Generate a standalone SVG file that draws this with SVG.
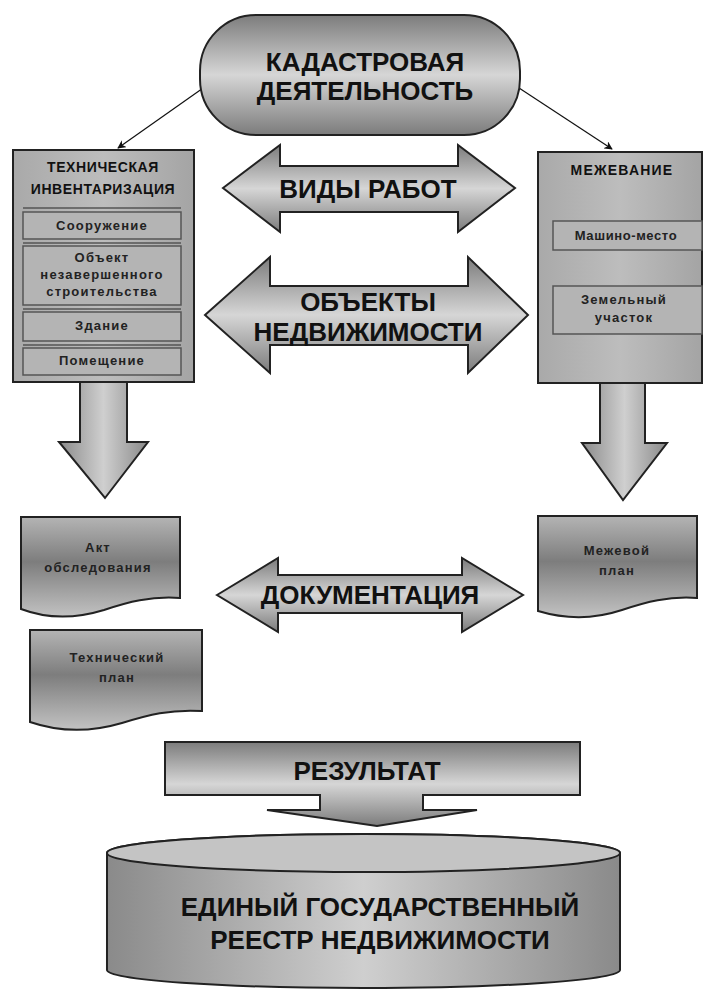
<svg xmlns="http://www.w3.org/2000/svg" width="704" height="990" viewBox="0 0 704 990">
<defs>
<linearGradient id="gv" x1="0" y1="0" x2="0" y2="1">
<stop offset="0" stop-color="#7c7c7c"/><stop offset="0.5" stop-color="#d6d6d6"/><stop offset="1" stop-color="#7c7c7c"/>
</linearGradient>
<linearGradient id="gh" x1="0" y1="0" x2="1" y2="0">
<stop offset="0" stop-color="#8a8a8a"/><stop offset="0.5" stop-color="#cfcfcf"/><stop offset="1" stop-color="#8a8a8a"/>
</linearGradient>
<linearGradient id="gbox" x1="0" y1="0" x2="1" y2="0">
<stop offset="0" stop-color="#a9a9a9"/><stop offset="0.5" stop-color="#bdbdbd"/><stop offset="1" stop-color="#a4a4a4"/>
</linearGradient>
<linearGradient id="gdoc" x1="0" y1="0" x2="0" y2="1">
<stop offset="0" stop-color="#b4b4b4"/><stop offset="0.45" stop-color="#7d7d7d"/><stop offset="1" stop-color="#c2c2c2"/>
</linearGradient>
<marker id="ah" viewBox="0 0 10 10" refX="9" refY="5" markerWidth="7" markerHeight="7" orient="auto">
<path d="M0,0 L10,5 L0,10 L3,5 Z" fill="#111"/>
</marker>
</defs>
<style>
.sh{stroke:#222;stroke-width:2}
.t{font-family:"Liberation Sans",Arial,sans-serif;fill:#111;text-anchor:middle;dominant-baseline:central}
.big{font-size:26px;font-weight:bold}
.mid{font-size:14px;font-weight:bold;letter-spacing:0.6px}
.sm{font-size:13px;font-weight:bold;letter-spacing:1.2px;fill:#222}
.inner{fill:#b4b4b4;stroke:#555;stroke-width:1.5}
.dl{stroke:#555;stroke-width:1.5}
</style>

<g id="connectors">
<line x1="206" y1="86" x2="118" y2="148" stroke="#111" stroke-width="1.2" marker-end="url(#ah)"/>
<line x1="516" y1="86" x2="612" y2="149" stroke="#111" stroke-width="1.2" marker-end="url(#ah)"/>
</g>

<g id="kadastr">
<rect x="200" y="15" width="320" height="120" rx="56" ry="56" fill="url(#gv)" class="sh"/>
<text class="t big" x="365" y="62">КАДАСТРОВАЯ</text>
<text class="t big" x="365" y="91">ДЕЯТЕЛЬНОСТЬ</text>
</g>

<g id="tech">
<rect x="13" y="150" width="181" height="232" fill="url(#gbox)" class="sh"/>
<text class="t mid" x="103" y="167">ТЕХНИЧЕСКАЯ</text>
<text class="t mid" x="103" y="189">ИНВЕНТАРИЗАЦИЯ</text>
<line x1="23" y1="208" x2="181" y2="208" class="dl"/>
<rect x="23" y="212" width="158" height="27" class="inner"/>
<text class="t sm" x="102" y="225">Сооружение</text>
<line x1="23" y1="243" x2="181" y2="243" class="dl"/>
<rect x="23" y="246" width="158" height="59" class="inner"/>
<text class="t sm" x="102" y="257">Объект</text>
<text class="t sm" x="102" y="274">незавершенного</text>
<text class="t sm" x="102" y="291">строительства</text>
<line x1="23" y1="309" x2="181" y2="309" class="dl"/>
<rect x="23" y="312" width="158" height="29" class="inner"/>
<text class="t sm" x="102" y="325">Здание</text>
<line x1="23" y1="345" x2="181" y2="345" class="dl"/>
<rect x="23" y="348" width="158" height="27" class="inner"/>
<text class="t sm" x="102" y="360">Помещение</text>
</g>

<g id="mezh">
<rect x="538" y="152" width="164" height="231" fill="url(#gbox)" class="sh"/>
<text class="t mid" x="622" y="170" style="letter-spacing:1.2px">МЕЖЕВАНИЕ</text>
<rect x="553" y="221" width="149" height="29" class="inner"/>
<text class="t sm" x="626" y="235" style="letter-spacing:0.6px">Машино-место</text>
<rect x="553" y="286" width="149" height="48" class="inner"/>
<text class="t sm" x="624" y="299">Земельный</text>
<text class="t sm" x="624" y="317">участок</text>
</g>

<g id="vidy">
<path d="M223,188 L280,145 V166 H458 V145 L515,188 L458,232 V212 H280 V232 Z" fill="url(#gv)" class="sh"/>
<text class="t big" x="368" y="189">ВИДЫ РАБОТ</text>
</g>

<g id="obekty">
<path d="M205,315 L270,257 V286 H468 V257 L528,315 L468,373 V345 H270 V373 Z" fill="url(#gv)" class="sh"/>
<text class="t big" x="368" y="302">ОБЪЕКТЫ</text>
<text class="t big" x="368" y="332">НЕДВИЖИМОСТИ</text>
</g>

<g id="down-left">
<path d="M80,382 H127 V442 H148 L105,498 L59,442 H80 Z" fill="url(#gh)" class="sh"/>
</g>
<g id="down-right">
<path d="M600,383 H645 V443 H667 L623,500 L582,443 H600 Z" fill="url(#gh)" class="sh"/>
</g>

<g id="akt">
<path d="M21,517 H180 V598 C150,596 128,602 104,610 C78,618 50,620 21,609 Z" fill="url(#gdoc)" class="sh"/>
<text class="t sm" x="98" y="547">Акт</text>
<text class="t sm" x="98" y="567">обследования</text>
</g>

<g id="techplan">
<path d="M30,630 H202 V711 C170,709 148,715 122,723 C95,731 62,733 30,722 Z" fill="url(#gdoc)" class="sh"/>
<text class="t sm" x="117" y="657">Технический</text>
<text class="t sm" x="117" y="677">план</text>
</g>

<g id="mezhplan">
<path d="M538,516 H697 V598 C668,596 646,602 622,610 C598,618 568,620 538,611 Z" fill="url(#gdoc)" class="sh"/>
<text class="t sm" x="617" y="550">Межевой</text>
<text class="t sm" x="617" y="570">план</text>
</g>

<g id="dokum">
<path d="M217,595 L278,558 V575 H462 V558 L523,595 L462,632 V613 H278 V632 Z" fill="url(#gv)" class="sh"/>
<text class="t big" x="370" y="595">ДОКУМЕНТАЦИЯ</text>
</g>

<g id="rezultat">
<path d="M165,742 H580 V795 H423 V810 H477 L377,826 L267,810 H320 V795 H165 Z" fill="url(#gv)" class="sh"/>
<text class="t big" x="367" y="771">РЕЗУЛЬТАТ</text>
</g>

<g id="egrn">
<path d="M107,853 A256.5,19 0 0 1 620,853 V970 A256.5,18 0 0 1 107,970 Z" fill="url(#gh)" class="sh"/>
<ellipse cx="363.5" cy="853" rx="256.5" ry="19" fill="#c4c4c4" class="sh"/>
<text class="t big" x="380" y="907">ЕДИНЫЙ ГОСУДАРСТВЕННЫЙ</text>
<text class="t big" x="380" y="940">РЕЕСТР НЕДВИЖИМОСТИ</text>
</g>
</svg>
